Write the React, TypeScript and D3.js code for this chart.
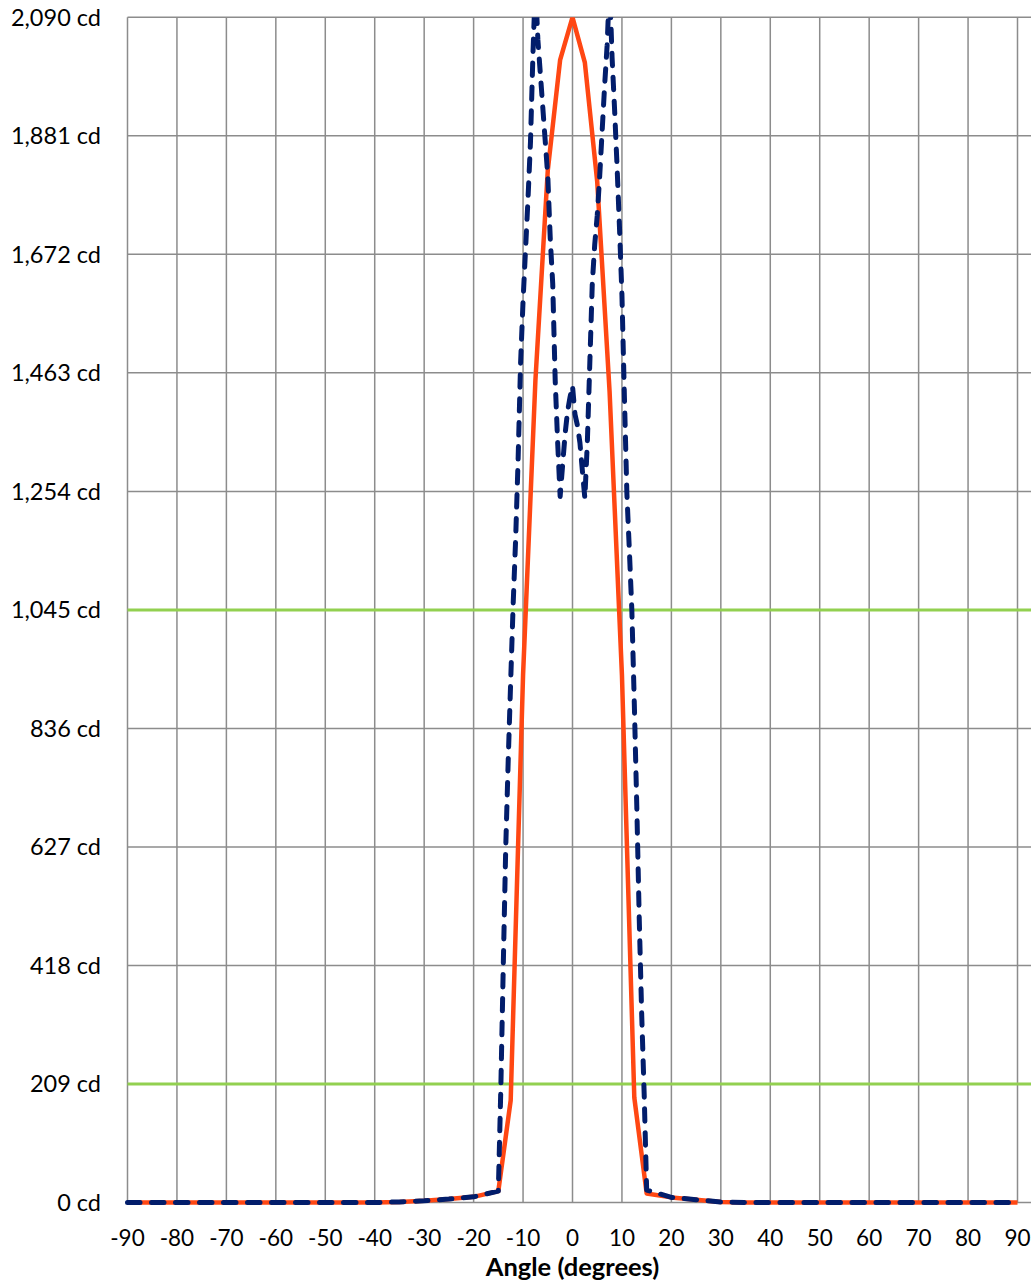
import React, { useEffect, useRef } from 'react';
import * as d3 from 'd3';

// Shared low-intensity tails (both beams overlap here)
const leftTailAngles = [-90, -80, -70, -60, -50, -40, -35, -30, -25, -20];
const leftTailCd = [0, 0, 0, 0, 0, 0, 1, 3, 6, 10];
const rightTailAngles = [20, 25, 30, 35, 40, 50, 60, 70, 80, 90];
const rightTailCd = [9, 5, 1, 0, 0, 0, 0, 0, 0, 0];

// Solid orange beam, sampled every 2.5 degrees from -15 to 15
const spotAngles = [-15, -12.5, -10, -7.5, -5, -2.5, 0, 2.5, 5, 7.5, 10, 12.5, 15];
const spotCd = [20, 180, 930, 1450, 1820, 2015, 2090, 2010, 1800, 1430, 930, 185, 16];

// Dashed navy beam, sampled every 0.5 degrees from -15 to 15
const ringAngles = d3.range(-15, 15.25, 0.5);
const ringCd = [
  20, 200, 418, 627, 780, 920, 1055, 1170, 1310, 1480,
  1590, 1680, 1770, 1870, 2025, 2150, 2050, 1990, 1930, 1870,
  1810, 1700, 1620, 1450, 1340, 1245, 1300, 1355, 1395, 1420,
  1440,
  1390, 1370, 1340, 1290, 1242, 1340, 1480, 1620, 1690, 1740,
  1810, 1890, 1970, 2040, 2150, 2020, 1930, 1830, 1720, 1600,
  1420, 1250, 1150, 1045, 880, 700, 500, 330, 190, 22,
];

// Reference levels (50% and 10% of max)
const thresholdCd = [1045, 209];

const yTicks = [0, 209, 418, 627, 836, 1045, 1254, 1463, 1672, 1881, 2090];
const xTicks = [-90, -80, -70, -60, -50, -40, -30, -20, -10, 0, 10, 20, 30, 40, 50, 60, 70, 80, 90];

const W = 1031;
const H = 1282;

type Pt = { a: number; v: number };
const zip = (as: number[], vs: number[]): Pt[] => as.map((a, i) => ({ a, v: vs[i] }));

const App: React.FC = () => {
  const svgRef = useRef<SVGSVGElement>(null);

  useEffect(() => {
    document.body.style.margin = '0';
    if (!svgRef.current) return;
    const svg = d3.select(svgRef.current);
    svg.selectAll('*').remove();

    const x = d3.scaleLinear().domain([-90, 90]).range([127.5, 1017.5]);
    const y = d3.scaleLinear().domain([0, 2090]).range([1202.5, 17.3]);
    const plotRight = W;

    const font = 'Lato, "Open Sans", sans-serif';

    svg.append('defs').append('clipPath').attr('id', 'plot')
      .append('rect')
      .attr('x', x(-90) - 6).attr('y', y(2090))
      .attr('width', plotRight - x(-90) + 6).attr('height', y(0) - y(2090) + 8);

    // Grid
    const grid = svg.append('g');
    grid.selectAll('line.h')
      .data(yTicks)
      .enter().append('line')
      .attr('x1', x(-90)).attr('x2', plotRight)
      .attr('y1', d => y(d)).attr('y2', d => y(d))
      .attr('stroke', '#8c8c8c').attr('stroke-width', 1.5);
    grid.selectAll('line.v')
      .data(xTicks)
      .enter().append('line')
      .attr('x1', d => x(d)).attr('x2', d => x(d))
      .attr('y1', y(2090)).attr('y2', y(0))
      .attr('stroke', '#8c8c8c').attr('stroke-width', 1.5);

    // Threshold lines
    svg.append('g').selectAll('line')
      .data(thresholdCd)
      .enter().append('line')
      .attr('x1', x(-90)).attr('x2', plotRight)
      .attr('y1', d => y(d)).attr('y2', d => y(d))
      .attr('stroke', '#92d050').attr('stroke-width', 3);

    const line = d3.line<Pt>().x(d => x(d.a)).y(d => y(d.v));

    const spot = [
      ...zip(leftTailAngles, leftTailCd),
      ...zip(spotAngles, spotCd),
      ...zip(rightTailAngles, rightTailCd),
    ];
    const ring = [
      ...zip(leftTailAngles, leftTailCd),
      ...zip(ringAngles, ringCd),
      ...zip(rightTailAngles, rightTailCd),
    ];

    const series = svg.append('g').attr('clip-path', 'url(#plot)');
    series.append('path')
      .datum(spot)
      .attr('d', line)
      .attr('fill', 'none')
      .attr('stroke', '#ff4713')
      .attr('stroke-width', 4.5)
      .attr('stroke-linejoin', 'round');
    series.append('path')
      .datum(ring)
      .attr('d', line)
      .attr('fill', 'none')
      .attr('stroke', '#021d6b')
      .attr('stroke-width', 5)
      .attr('stroke-linejoin', 'round')
      .attr('stroke-linecap', 'round')
      .attr('stroke-dasharray', '12.5 11.5');

    // Y labels
    svg.append('g').selectAll('text')
      .data(yTicks)
      .enter().append('text')
      .attr('x', 101)
      .attr('y', d => y(d))
      .attr('dy', '0.35em')
      .attr('text-anchor', 'end')
      .attr('font-family', font)
      .attr('font-size', 23.5)
      .attr('fill', '#000')
      .text(d => `${d3.format(',')(d)} cd`);

    // X labels
    svg.append('g').selectAll('text')
      .data(xTicks)
      .enter().append('text')
      .attr('x', d => x(d))
      .attr('y', 1246)
      .attr('text-anchor', 'middle')
      .attr('font-family', font)
      .attr('font-size', 22.5)
      .attr('fill', '#000')
      .text(d => `${d}`);

    svg.append('text')
      .attr('x', x(0))
      .attr('y', 1276)
      .attr('text-anchor', 'middle')
      .attr('font-family', font)
      .attr('font-size', 25.5)
      .attr('font-weight', 'bold')
      .attr('fill', '#000')
      .text('Angle (degrees)');
  }, []);

  return <svg ref={svgRef} width={W} height={H} style={{ display: 'block', background: '#fff' }} />;
};

export default App;
